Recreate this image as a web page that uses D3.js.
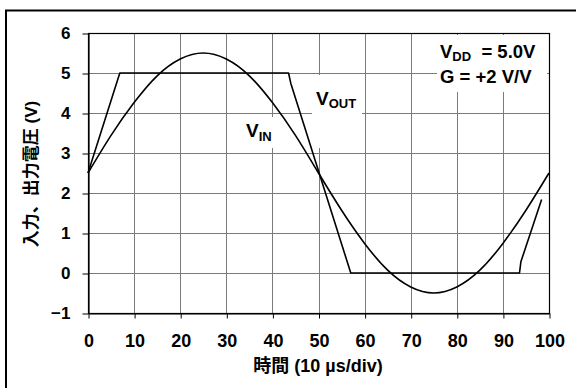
<!DOCTYPE html>
<html>
<head>
<meta charset="utf-8">
<script src="https://cdn.jsdelivr.net/npm/d3@7"></script>
<style>
  html, body { margin: 0; padding: 0; background: #fff; }
  svg { display: block; }
  text { font-family: "Liberation Sans", Arial, "Noto Sans CJK JP", sans-serif; font-weight: bold; fill: #000; }
</style>
</head>
<body>
<svg id="chart" width="576" height="388"></svg>
<script>
// Input waveform samples (time in 10 µs/div units, volts)
const vinTime = [0, 5, 10, 15, 20, 25, 30, 35, 40, 45, 50, 55, 60, 65, 70, 75, 80, 85, 90, 95, 100];
const vinVolts = [2.5, 3.44, 4.26, 4.93, 5.35, 5.5, 5.35, 4.93, 4.26, 3.44, 2.5, 1.57, 0.74, 0.07, -0.35, -0.5, -0.35, 0.07, 0.74, 1.57, 2.5];

// Output waveform (clipped at the rails)
const voutTime = [0, 6.9, 43.5, 44.0, 57.0, 93.6, 93.9, 98.4];
const voutVolts = [2.5, 5.0, 5.0, 4.74, 0.0, 0.0, 0.28, 1.84];

const xTicks = [0, 10, 20, 30, 40, 50, 60, 70, 80, 90, 100];
const yTicks = [-1, 0, 1, 2, 3, 4, 5, 6];

const svg = d3.select("#chart");

// Outer frame (runs off the right and bottom edges)
svg.append("rect")
  .attr("x", 6).attr("y", 10.5)
  .attr("width", 600).attr("height", 400)
  .attr("fill", "none").attr("stroke", "#000").attr("stroke-width", 2);

const x = d3.scaleLinear().domain([0, 100]).range([88, 549]);
const y = d3.scaleLinear().domain([-1, 6]).range([313, 33]);

// Grid
const grid = svg.append("g").attr("stroke", "#7a7a7a").attr("stroke-width", 1);
grid.selectAll("line.v").data(xTicks.slice(1, -1)).join("line")
  .attr("x1", d => Math.round(x(d)) + 0.5).attr("x2", d => Math.round(x(d)) + 0.5)
  .attr("y1", y(6)).attr("y2", y(-1));
grid.selectAll("line.h").data(yTicks.slice(1, -1)).join("line")
  .attr("y1", d => Math.round(y(d)) + 0.5).attr("y2", d => Math.round(y(d)) + 0.5)
  .attr("x1", x(0)).attr("x2", x(100));

// Plot frame
svg.append("rect")
  .attr("x", x(0) + 0.5).attr("y", y(6) + 0.5)
  .attr("width", x(100) - x(0)).attr("height", y(-1) - y(6))
  .attr("fill", "none").attr("stroke", "#000").attr("stroke-width", 1.2);

// Axes
const yAxis = svg.append("g")
  .attr("transform", `translate(${x(0) + 0.5},0.5)`)
  .call(d3.axisLeft(y).tickValues(yTicks).tickSize(6).tickSizeOuter(0).tickPadding(12).tickFormat(d3.format("d")));
const xAxis = svg.append("g")
  .attr("transform", `translate(0.5,${y(-1) + 0.5})`)
  .call(d3.axisBottom(x).tickValues(xTicks).tickSize(5).tickSizeOuter(0).tickPadding(16).tickFormat(d3.format("d")));
[yAxis, xAxis].forEach(a => {
  a.select(".domain").attr("stroke", "#000").attr("stroke-width", 1.2);
  a.selectAll(".tick line").attr("stroke", "#000");
  a.selectAll("text").attr("fill", "#000").style("font-weight", "bold")
    .style("font-family", "'Liberation Sans', Arial, sans-serif");
});
yAxis.selectAll("text").style("font-size", "17px");
xAxis.selectAll("text").style("font-size", "18px");

// Axis titles
svg.append("text")
  .attr("transform", `translate(37,174) rotate(-90)`)
  .attr("text-anchor", "middle")
  .style("font-size", "17px")
  .text("入力、出力電圧 (V)");
svg.append("text")
  .attr("x", 318).attr("y", 372)
  .attr("text-anchor", "middle")
  .style("font-size", "18px")
  .text("時間 (10 µs/div)");

// White boxes behind annotations
const boxes = [
  { x0: 437, y0: 35, x1: 547, y1: 92 },
  { x0: 312, y0: 75, x1: 362, y1: 148 },
  { x0: 241, y0: 117, x1: 275, y1: 148 }
];
svg.selectAll("rect.lbl").data(boxes).join("rect")
  .attr("x", d => d.x0).attr("y", d => d.y0)
  .attr("width", d => d.x1 - d.x0).attr("height", d => d.y1 - d.y0)
  .attr("fill", "#fff");

// Waveforms
const vinData = vinTime.map((t, i) => [t, vinVolts[i]]);
const voutData = voutTime.map((t, i) => [t, voutVolts[i]]);

svg.append("path")
  .datum(vinData)
  .attr("fill", "none").attr("stroke", "#000").attr("stroke-width", 1.6)
  .attr("d", d3.line().x(d => x(d[0])).y(d => y(d[1])).curve(d3.curveNatural));
svg.append("path")
  .datum(voutData)
  .attr("fill", "none").attr("stroke", "#000").attr("stroke-width", 1.6)
  .attr("stroke-linejoin", "round")
  .attr("d", d3.line().x(d => x(d[0])).y(d => y(d[1])));

// Labels with subscripts
function subLabel(px, py, main, sub, size, subSize, shift) {
  const t = svg.append("text").attr("x", px).attr("y", py).style("font-size", size + "px");
  t.append("tspan").text(main);
  t.append("tspan").attr("dy", shift).style("font-size", subSize + "px").text(sub);
  return t;
}
subLabel(316, 105, "V", "OUT", 19, 13, 3);
subLabel(246, 137, "V", "IN", 19, 13, 4);

const t1 = svg.append("text").attr("x", 440).attr("y", 58).style("font-size", "18.5px");
t1.append("tspan").text("V");
t1.append("tspan").attr("dy", 3).style("font-size", "13px").text("DD");
t1.append("tspan").attr("dy", -3).text("  = 5.0V").attr("xml:space", "preserve");
svg.append("text").attr("x", 440).attr("y", 83).style("font-size", "18.5px").text("G = +2 V/V");
</script>
</body>
</html>
